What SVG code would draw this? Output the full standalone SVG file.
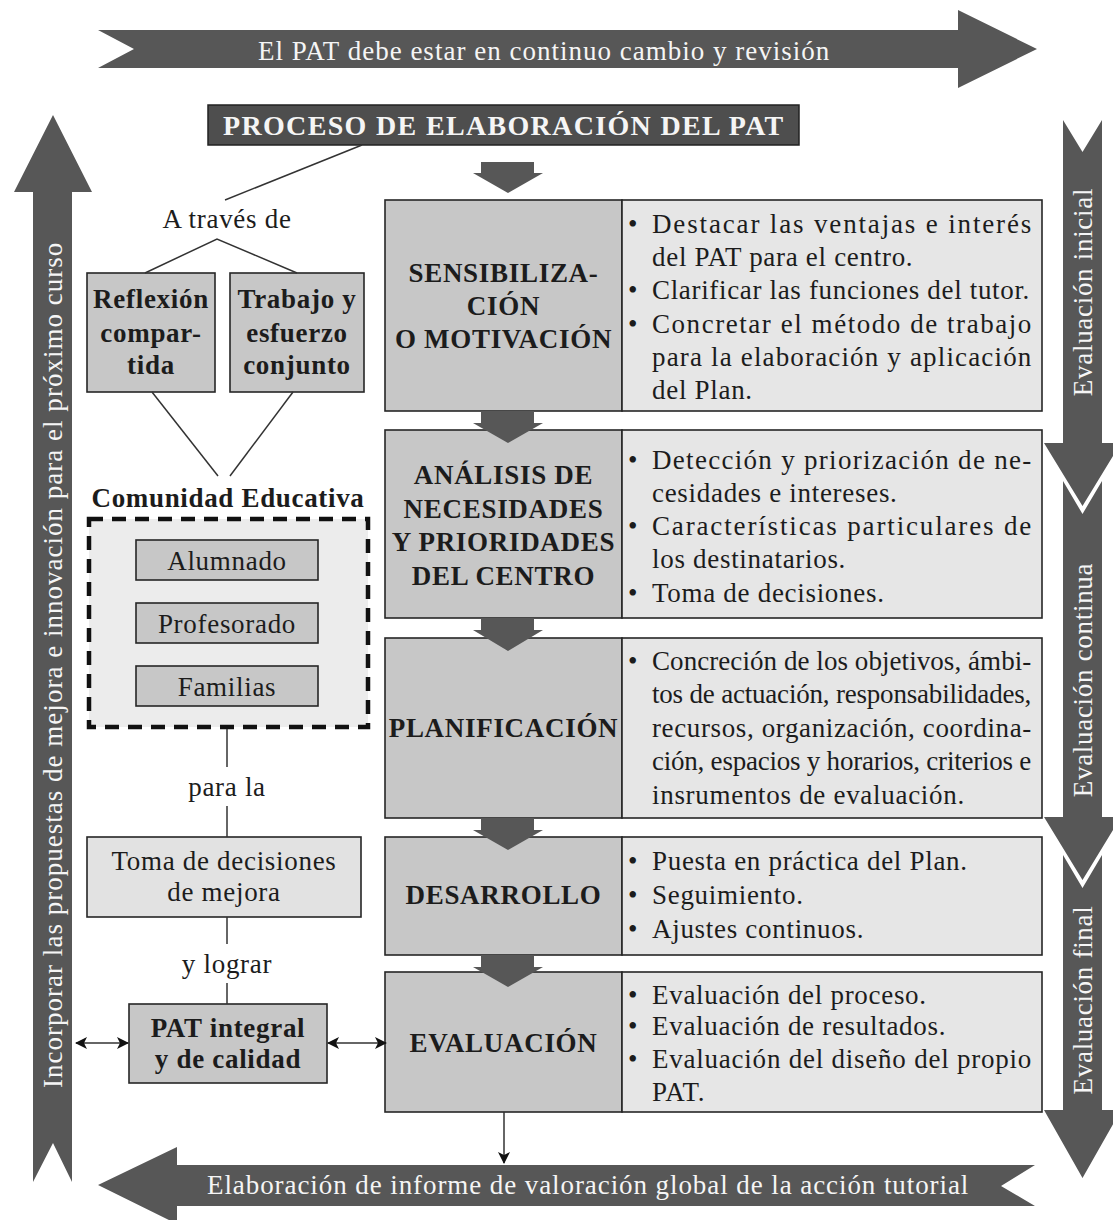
<svg xmlns="http://www.w3.org/2000/svg" width="1113" height="1220" viewBox="0 0 1113 1220">
<defs>
<style>
.t{font-family:'Liberation Serif','Times New Roman',serif;font-size:27px;fill:#1c1c1c;letter-spacing:0.7px}
.b{font-weight:bold}
.w{fill:#f5f5f5}
.c{text-anchor:middle}
.bx{stroke:#262626;stroke-width:1.6}
.lab{fill:#c7c7c7}
.cont{fill:#e6e6e6}
.lt{fill:#e2e2e2}
.arr{fill:#575757}
.ln{stroke:#333;stroke-width:1.5;fill:none}
</style>
<marker id="ah" viewBox="0 0 12 12" refX="11" refY="6" markerWidth="12" markerHeight="12" markerUnits="userSpaceOnUse" orient="auto-start-reverse">
<path d="M0,0 L12,6 L0,12 L3,6 z" fill="#111"/>
</marker>
</defs>
<rect width="1113" height="1220" fill="#ffffff"/>

<g id="top-arrow">
<polygon class="arr" points="98,30 958,30 958,10 1037,49 958,88 958,68 98,68 134,49"/>
<text class="t w c" x="544" y="60" textLength="572">El PAT debe estar en continuo cambio y revisión</text>
</g>

<g id="left-arrow">
<polygon class="arr" points="53,115 92,192 72,192 72,1182 53,1143 33,1182 33,192 14,192"/>
<text class="t w c" transform="translate(52.5,665) rotate(-90)" x="0" y="9" textLength="846">Incorporar las propuestas de mejora e innovación para el próximo curso</text>
</g>

<g id="bottom-arrow">
<polygon class="arr" points="98,1185 177,1147 177,1165 1035,1165 1001,1186 1035,1206 177,1206 177,1224"/>
<text class="t w c" x="588" y="1194" textLength="762">Elaboración de informe de valoración global de la acción tutorial</text>
</g>

<g id="eval-inicial">
<polygon class="arr" points="1063,120 1082.5,152 1102,120 1102,443 1121,443 1082.5,506 1044,443 1063,443"/>
<text class="t w c" transform="translate(1082.5,292) rotate(-90)" x="0" y="9">Evaluación inicial</text>
</g>
<g id="eval-continua">
<polygon class="arr" points="1063,481 1082.5,514 1102,481 1102,817 1121,817 1082.5,880 1044,817 1063,817"/>
<text class="t w c" transform="translate(1082.5,680) rotate(-90)" x="0" y="9">Evaluación continua</text>
</g>
<g id="eval-final">
<polygon class="arr" points="1063,855 1082.5,888 1102,855 1102,1110 1121,1110 1082.5,1178 1044,1110 1063,1110"/>
<text class="t w c" transform="translate(1082.5,1000) rotate(-90)" x="0" y="9">Evaluación final</text>
</g>

<g id="title">
<rect x="208" y="105" width="591" height="40" fill="#4e4e4e" stroke="#222" stroke-width="1.5"/>
<text class="t b w c" style="font-size:28px" x="503.5" y="135" textLength="561">PROCESO DE ELABORACIÓN DEL PAT</text>
</g>

<g id="a-traves">
<text class="t c" x="227" y="228">A través de</text>
</g>

<g id="reflexion">
<rect class="bx lab" x="87" y="273" width="128" height="119"/>
<text class="t b c" x="151" y="308">Reflexión</text>
<text class="t b c" x="151" y="342">compar-</text>
<text class="t b c" x="151" y="374">tida</text>
</g>

<g id="trabajo">
<rect class="bx lab" x="230" y="273" width="134" height="119"/>
<text class="t b c" x="297" y="308">Trabajo y</text>
<text class="t b c" x="297" y="342">esfuerzo</text>
<text class="t b c" x="297" y="374">conjunto</text>
</g>

<g id="comunidad">
<text class="t b c" x="228" y="507" textLength="273">Comunidad Educativa</text>
<rect x="89" y="519" width="279" height="208" fill="#ececec" stroke="#111" stroke-width="4.5" stroke-dasharray="14 9"/>
</g>
<g id="alumnado">
<rect class="bx lab" x="136" y="540" width="182" height="40"/>
<text class="t c" x="227" y="570">Alumnado</text>
</g>
<g id="profesorado">
<rect class="bx lab" x="136" y="603" width="182" height="40"/>
<text class="t c" x="227" y="633">Profesorado</text>
</g>
<g id="familias">
<rect class="bx lab" x="136" y="666" width="182" height="40"/>
<text class="t c" x="227" y="696">Familias</text>
</g>

<g id="para-la"><text class="t c" x="227" y="796">para la</text></g>

<g id="toma">
<rect class="bx lt" x="87" y="837" width="274" height="80"/>
<text class="t c" x="224" y="870">Toma de decisiones</text>
<text class="t c" x="224" y="901">de mejora</text>
</g>

<g id="y-lograr"><text class="t c" x="227" y="973">y lograr</text></g>

<g id="pat-integral">
<rect class="bx lab" x="129" y="1004" width="198" height="79"/>
<text class="t b c" x="228" y="1037">PAT integral</text>
<text class="t b c" x="228" y="1068">y de calidad</text>
</g>

<g id="sensibilizacion">
<rect class="bx lab" x="385" y="200" width="237" height="211"/>
<rect class="bx cont" x="622" y="200" width="420" height="211"/>
<text class="t b c" x="503.5" y="282">SENSIBILIZA-</text>
<text class="t b c" x="503.5" y="315">CIÓN</text>
<text class="t b c" x="503.5" y="348">O MOTIVACIÓN</text>
<text class="t" x="628" y="233">•</text><text class="t" x="652" y="233" textLength="380">Destacar las ventajas e interés</text>
<text class="t" x="652" y="266">del PAT para el centro.</text>
<text class="t" x="628" y="299">•</text><text class="t" x="652" y="299" textLength="378">Clarificar las funciones del tutor.</text>
<text class="t" x="628" y="333">•</text><text class="t" x="652" y="333" textLength="380">Concretar el método de trabajo</text>
<text class="t" x="652" y="366" textLength="380">para la elaboración y aplicación</text>
<text class="t" x="652" y="399">del Plan.</text>
</g>

<g id="analisis">
<rect class="bx lab" x="385" y="430" width="237" height="188"/>
<rect class="bx cont" x="622" y="430" width="420" height="188"/>
<text class="t b c" x="503.5" y="484">ANÁLISIS DE</text>
<text class="t b c" x="503.5" y="518">NECESIDADES</text>
<text class="t b c" x="503.5" y="551">Y PRIORIDADES</text>
<text class="t b c" x="503.5" y="585">DEL CENTRO</text>
<text class="t" x="628" y="469">•</text><text class="t" x="652" y="469" textLength="380">Detección y priorización de ne-</text>
<text class="t" x="652" y="502">cesidades e intereses.</text>
<text class="t" x="628" y="535">•</text><text class="t" x="652" y="535" textLength="380">Características particulares de</text>
<text class="t" x="652" y="568">los destinatarios.</text>
<text class="t" x="628" y="602">•</text><text class="t" x="652" y="602">Toma de decisiones.</text>
</g>

<g id="planificacion">
<rect class="bx lab" x="385" y="638" width="237" height="180"/>
<rect class="bx cont" x="622" y="638" width="420" height="180"/>
<text class="t b c" x="503.5" y="737">PLANIFICACIÓN</text>
<text class="t" x="628" y="670">•</text><text class="t" x="652" y="670" textLength="380">Concreción de los objetivos, ámbi-</text>
<text class="t" x="652" y="703" textLength="380">tos de actuación, responsabilidades,</text>
<text class="t" x="652" y="737" textLength="380">recursos, organización, coordina-</text>
<text class="t" x="652" y="770" textLength="380">ción, espacios y horarios, criterios e</text>
<text class="t" x="652" y="804">insrumentos de evaluación.</text>
</g>

<g id="desarrollo">
<rect class="bx lab" x="385" y="837" width="237" height="118"/>
<rect class="bx cont" x="622" y="837" width="420" height="118"/>
<text class="t b c" x="503.5" y="904">DESARROLLO</text>
<text class="t" x="628" y="870">•</text><text class="t" x="652" y="870">Puesta en práctica del Plan.</text>
<text class="t" x="628" y="904">•</text><text class="t" x="652" y="904">Seguimiento.</text>
<text class="t" x="628" y="938">•</text><text class="t" x="652" y="938">Ajustes continuos.</text>
</g>

<g id="evaluacion">
<rect class="bx lab" x="385" y="972" width="237" height="140"/>
<rect class="bx cont" x="622" y="972" width="420" height="140"/>
<text class="t b c" x="503.5" y="1052">EVALUACIÓN</text>
<text class="t" x="628" y="1004">•</text><text class="t" x="652" y="1004">Evaluación del proceso.</text>
<text class="t" x="628" y="1035">•</text><text class="t" x="652" y="1035">Evaluación de resultados.</text>
<text class="t" x="628" y="1068">•</text><text class="t" x="652" y="1068" textLength="380">Evaluación del diseño del propio</text>
<text class="t" x="652" y="1101">PAT.</text>
</g>

<g id="connectors">
<line class="ln" x1="362" y1="145" x2="225" y2="200"/>
<polyline class="ln" points="145,273 217,239 297,273"/>
<line class="ln" x1="152" y1="392" x2="218" y2="476"/>
<line class="ln" x1="293" y1="392" x2="230" y2="476"/>
<line class="ln" x1="227" y1="729" x2="227" y2="767"/>
<line class="ln" x1="227" y1="806" x2="227" y2="837"/>
<line class="ln" x1="227" y1="917" x2="227" y2="944"/>
<line class="ln" x1="227" y1="983" x2="227" y2="1004"/>
<line class="ln" x1="76" y1="1043" x2="128" y2="1043" marker-start="url(#ah)" marker-end="url(#ah)"/>
<line class="ln" x1="328" y1="1043" x2="386" y2="1043" marker-start="url(#ah)" marker-end="url(#ah)"/>
<line class="ln" x1="504" y1="1112" x2="504" y2="1163" marker-end="url(#ah)"/>
<polygon class="arr" points="481,162 534,162 534,173 543,173 508,193 473,173 481,173"/>
<polygon class="arr" points="481,411 534,411 534,423 543,423 508,443 473,423 481,423"/>
<polygon class="arr" points="481,618 534,618 534,630 543,630 508,651 473,630 481,630"/>
<polygon class="arr" points="481,818 534,818 534,830 543,830 508,850 473,830 481,830"/>
<polygon class="arr" points="481,955 534,955 534,967 543,967 508,987 473,967 481,967"/>
</g>
</svg>
